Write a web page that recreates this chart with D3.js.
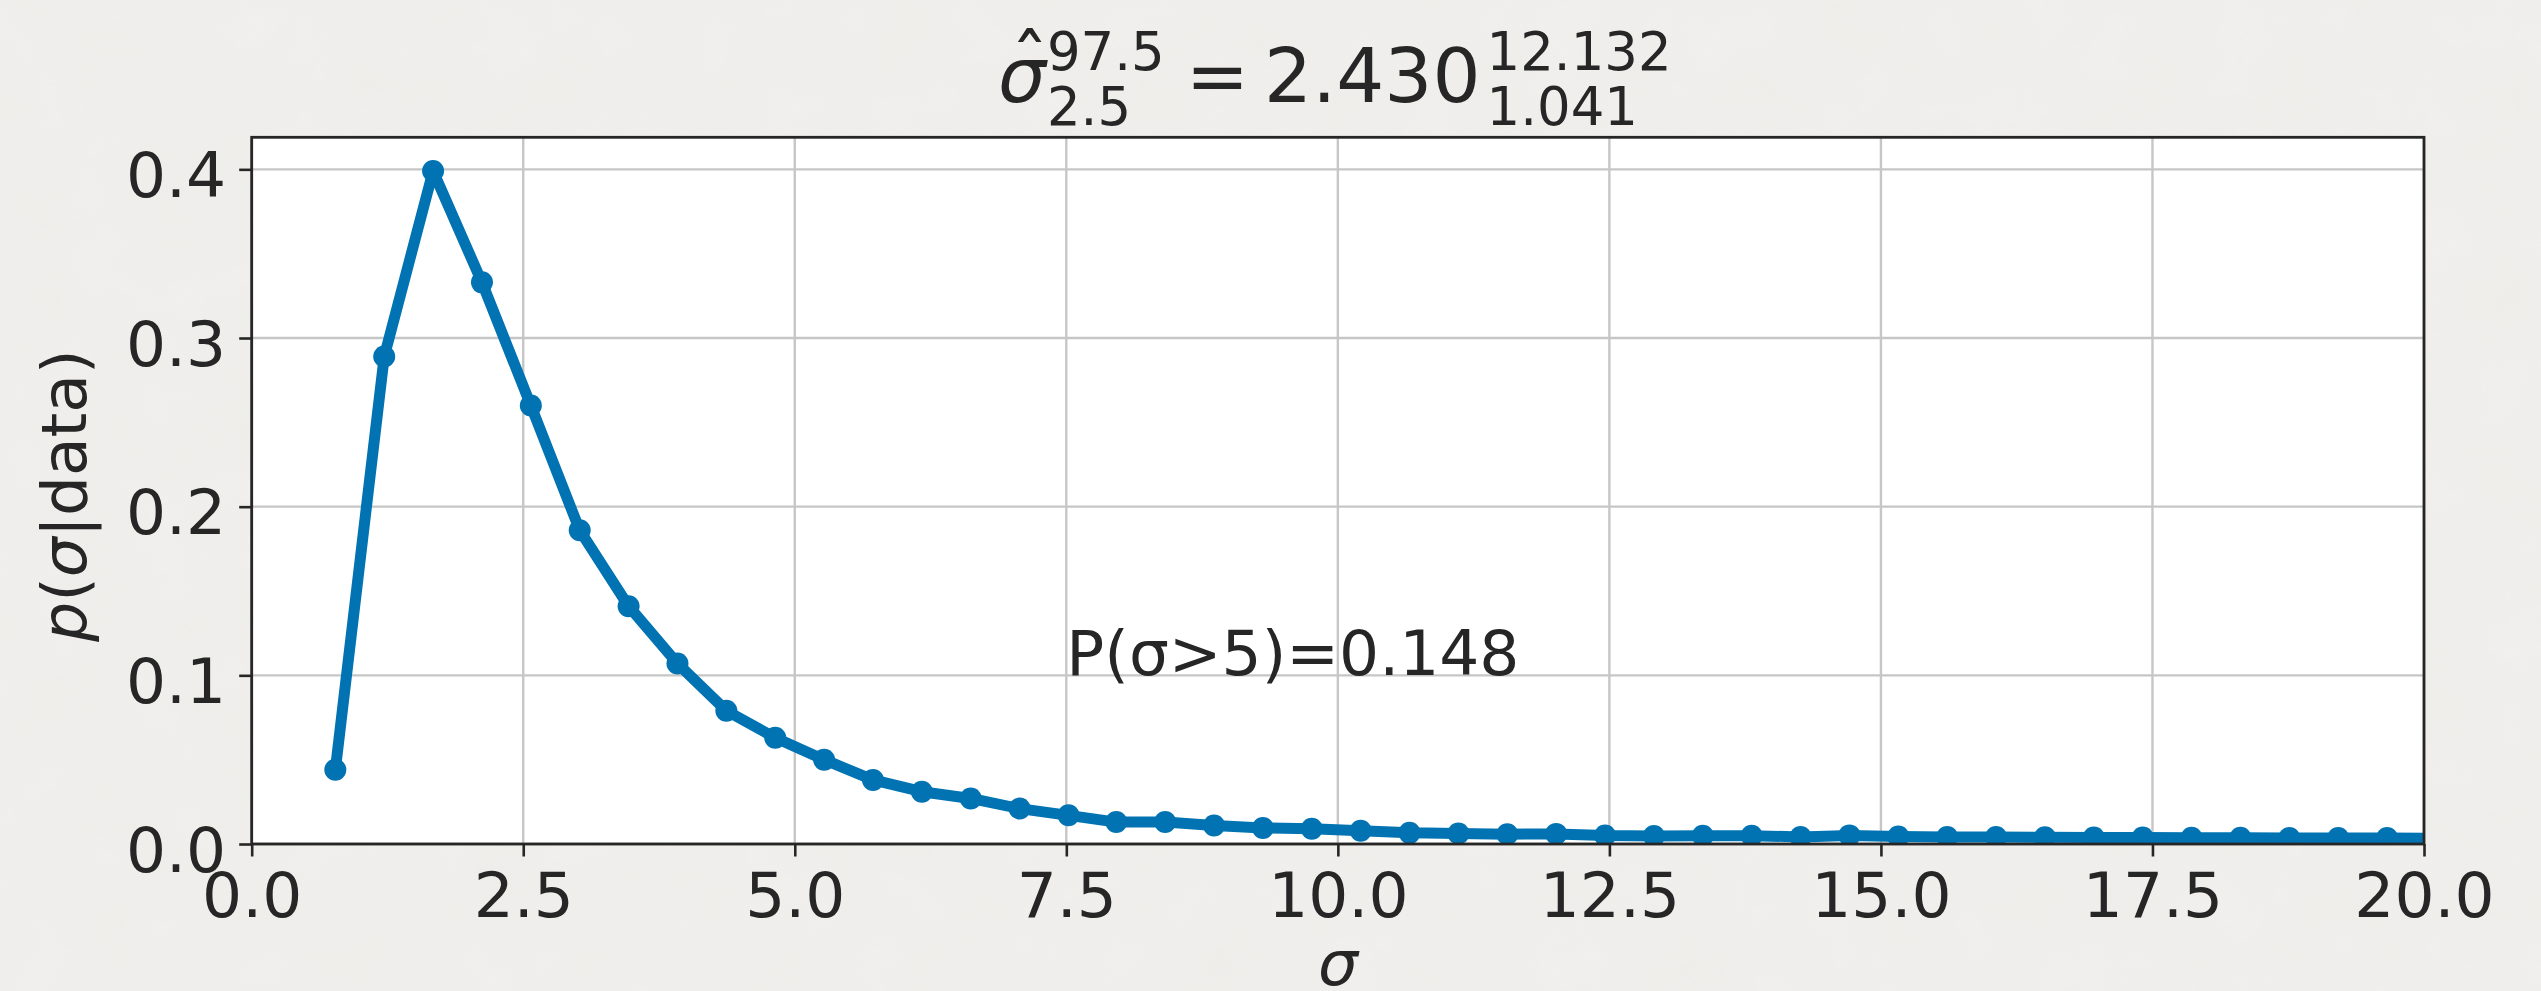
<!DOCTYPE html>
<html><head><meta charset="utf-8">
<script src="https://cdn.jsdelivr.net/npm/d3@7"></script>
<style>
html,body{margin:0;padding:0;background:#efeeea;overflow:hidden}
svg{display:block}
text{font-family:"DejaVu Sans",sans-serif;fill:#262626}
</style></head><body>
<svg id="chart" width="2541" height="991"></svg>
<script>
// ---- data ----
const sigmaValues = [0.77, 1.22, 1.67, 2.12, 2.57, 3.02, 3.47, 3.92, 4.37, 4.82,
  5.27, 5.72, 6.17, 6.62, 7.07, 7.52, 7.96, 8.41, 8.86, 9.31,
  9.76, 10.21, 10.66, 11.11, 11.56, 12.01, 12.46, 12.91, 13.36, 13.81,
  14.26, 14.71, 15.16, 15.61, 16.06, 16.51, 16.96, 17.41, 17.86, 18.31,
  18.76, 19.21, 19.66, 20.11];
const densityValues = [0.044, 0.289, 0.399, 0.333, 0.260, 0.186, 0.141, 0.107, 0.079, 0.063,
  0.050, 0.038, 0.031, 0.027, 0.021, 0.017, 0.013, 0.013, 0.011, 0.0095,
  0.0090, 0.0078, 0.0066, 0.0062, 0.0058, 0.0060, 0.0050, 0.0048, 0.0049, 0.0049,
  0.0042, 0.0051, 0.0044, 0.0042, 0.0041, 0.0040, 0.0039, 0.0039, 0.0037, 0.0037,
  0.0036, 0.0036, 0.0035, 0.0034];
const xTickValues = [0, 2.5, 5, 7.5, 10, 12.5, 15, 17.5, 20];
const xTickLabels = ["0.0", "2.5", "5.0", "7.5", "10.0", "12.5", "15.0", "17.5", "20.0"];
const yTickValues = [0, 0.1, 0.2, 0.3, 0.4];
const yTickLabels = ["0.0", "0.1", "0.2", "0.3", "0.4"];
const xDomain = [0, 20];
const yDomain = [0, 0.419];
const annotationPos = [7.5, 0.1];
const annotationText = "P(σ>5)=0.148";
const titleMain = ["2.430"];
const titleEstimateSup = "97.5", titleEstimateSub = "2.5";
const titleValueSup = "12.132", titleValueSub = "1.041";

// ---- layout ----
const W = 2541, H = 991;
const margin = {left: 251.7, right: W - 2424, top: 137.3, bottom: H - 844};
const FS = 63, TFS = 75.6, SFS = TFS * 0.7;
const blue = "#0173b2";

const svg = d3.select("#chart");
const defs = svg.append("defs");

// paper texture background
const f = defs.append("filter").attr("id", "paper").attr("x", 0).attr("y", 0).attr("width", "100%").attr("height", "100%");
f.append("feTurbulence").attr("type", "fractalNoise").attr("baseFrequency", "0.8").attr("numOctaves", 2).attr("seed", 3).attr("result", "fine");
f.append("feColorMatrix").attr("in", "fine").attr("type", "matrix")
  .attr("values", "0 0 0 0 0.55  0 0 0 0 0.54  0 0 0 0 0.52  0 0 0 0.11 0").attr("result", "fineA");
f.append("feTurbulence").attr("type", "fractalNoise").attr("baseFrequency", "0.015").attr("numOctaves", 4).attr("seed", 7).attr("result", "coarse");
f.append("feColorMatrix").attr("in", "coarse").attr("type", "matrix")
  .attr("values", "0 0 0 0 0.62  0 0 0 0 0.61  0 0 0 0 0.59  0 0 0 0.12 -0.02").attr("result", "coarseA");
f.append("feMerge").call(m => {
  m.append("feMergeNode").attr("in", "SourceGraphic");
  m.append("feMergeNode").attr("in", "coarseA");
  m.append("feMergeNode").attr("in", "fineA");
});
svg.append("rect").attr("width", W).attr("height", H).attr("fill", "#f3f2ef").attr("filter", "url(#paper)");

const x = d3.scaleLinear().domain(xDomain).range([margin.left, W - margin.right]);
const y = d3.scaleLinear().domain(yDomain).range([H - margin.bottom, margin.top]);

defs.append("clipPath").attr("id", "plotclip").append("rect")
  .attr("x", x(xDomain[0])).attr("y", y(yDomain[1]))
  .attr("width", x(xDomain[1]) - x(xDomain[0])).attr("height", y(yDomain[0]) - y(yDomain[1]));

// axes background
svg.append("rect").attr("x", x(xDomain[0])).attr("y", y(yDomain[1]))
  .attr("width", x(xDomain[1]) - x(xDomain[0])).attr("height", y(yDomain[0]) - y(yDomain[1]))
  .attr("fill", "#ffffff");

// grid
const grid = svg.append("g");
grid.selectAll("line.gx").data(xTickValues).join("line")
  .attr("x1", d => x(d)).attr("x2", d => x(d)).attr("y1", y(yDomain[0])).attr("y2", y(yDomain[1]))
  .attr("stroke", "#c6c6c6").attr("stroke-width", 2.4);
grid.selectAll("line.gy").data(yTickValues).join("line")
  .attr("y1", d => y(d)).attr("y2", d => y(d)).attr("x1", x(xDomain[0])).attr("x2", x(xDomain[1]))
  .attr("stroke", "#c6c6c6").attr("stroke-width", 2.4);

// data
const pts = sigmaValues.map((s, i) => [s, densityValues[i]]);
const plot = svg.append("g").attr("clip-path", "url(#plotclip)");
plot.append("path").datum(pts)
  .attr("d", d3.line().x(d => x(d[0])).y(d => y(d[1])))
  .attr("fill", "none").attr("stroke", blue).attr("stroke-width", 11)
  .attr("stroke-linejoin", "round").attr("stroke-linecap", "butt");
plot.selectAll("circle").data(pts).join("circle")
  .attr("cx", d => x(d[0])).attr("cy", d => y(d[1])).attr("r", 11).attr("fill", blue);

// annotation
svg.append("text").attr("x", x(annotationPos[0])).attr("y", y(annotationPos[1]))
  .style("font-size", FS + "px").text(annotationText);

// axes (spines + ticks)
const xAxis = d3.axisBottom(x).tickValues(xTickValues).tickFormat((d, i) => xTickLabels[i]).tickSize(12.5).tickPadding(16);
const yAxis = d3.axisLeft(y).tickValues(yTickValues).tickFormat((d, i) => yTickLabels[i]).tickSize(12.5).tickPadding(13);
const gx = svg.append("g").attr("transform", `translate(0,${y(yDomain[0])})`).call(xAxis);
const gy = svg.append("g").attr("transform", `translate(${x(xDomain[0])},0)`).call(yAxis);
[gx, gy].forEach(g => {
  g.select(".domain").remove();
  g.selectAll(".tick line").attr("stroke", "#262626").attr("stroke-width", 2.6);
  g.selectAll(".tick text").style("font-size", FS + "px").style("font-family", "DejaVu Sans").attr("fill", "#262626");
});
gx.selectAll(".tick text").attr("dy", null).attr("y", 73);
gy.selectAll(".tick text").attr("dy", null).attr("y", 27);

svg.append("rect").attr("x", x(xDomain[0])).attr("y", y(yDomain[1]))
  .attr("width", x(xDomain[1]) - x(xDomain[0])).attr("height", y(yDomain[0]) - y(yDomain[1]))
  .attr("fill", "none").attr("stroke", "#262626").attr("stroke-width", 2.8);

// axis labels
svg.append("text").attr("x", (x(xDomain[0]) + x(xDomain[1])) / 2).attr("y", 985)
  .attr("text-anchor", "middle").style("font-size", FS + "px").style("font-style", "italic").text("σ");
const yl = svg.append("text")
  .attr("transform", `translate(86,${(y(yDomain[0]) + y(yDomain[1])) / 2 + 5}) rotate(-90)`)
  .attr("text-anchor", "middle").style("font-size", FS + "px");
yl.append("tspan").style("font-style", "italic").text("p");
yl.append("tspan").text("(");
yl.append("tspan").style("font-style", "italic").text("σ");
yl.append("tspan").text("|data)");

// title (mathtext-like layout)
const tg = svg.append("g");
const base = 101.7;
let cx = 0;
const sig = tg.append("text").attr("x", cx).attr("y", base).style("font-size", TFS + "px").style("font-style", "italic").text("σ");
const wSig = sig.node().getComputedTextLength();
tg.append("text").attr("x", cx + wSig * 0.66).attr("y", base - 14).attr("text-anchor", "middle")
  .style("font-size", TFS + "px").text("ˆ");
cx += wSig + 1;
const s1 = tg.append("text").attr("x", cx).attr("y", base - 31.7).style("font-size", SFS + "px").text(titleEstimateSup);
const s2 = tg.append("text").attr("x", cx).attr("y", base + 23.3).style("font-size", SFS + "px").text(titleEstimateSub);
cx += Math.max(s1.node().getComputedTextLength(), s2.node().getComputedTextLength()) + 21;
const eq = tg.append("text").attr("x", cx).attr("y", base).style("font-size", TFS + "px").text("=");
cx += eq.node().getComputedTextLength() + 15;
const num = tg.append("text").attr("x", cx).attr("y", base).style("font-size", TFS + "px").text(titleMain[0]);
cx += num.node().getComputedTextLength() + 6;
const s3 = tg.append("text").attr("x", cx).attr("y", base - 31.7).style("font-size", SFS + "px").text(titleValueSup);
const s4 = tg.append("text").attr("x", cx).attr("y", base + 23.3).style("font-size", SFS + "px").text(titleValueSub);
cx += Math.max(s3.node().getComputedTextLength(), s4.node().getComputedTextLength());
tg.attr("transform", `translate(${(x(xDomain[0]) + x(xDomain[1])) / 2 - cx / 2 - 3},0)`);
</script>
</body></html>
